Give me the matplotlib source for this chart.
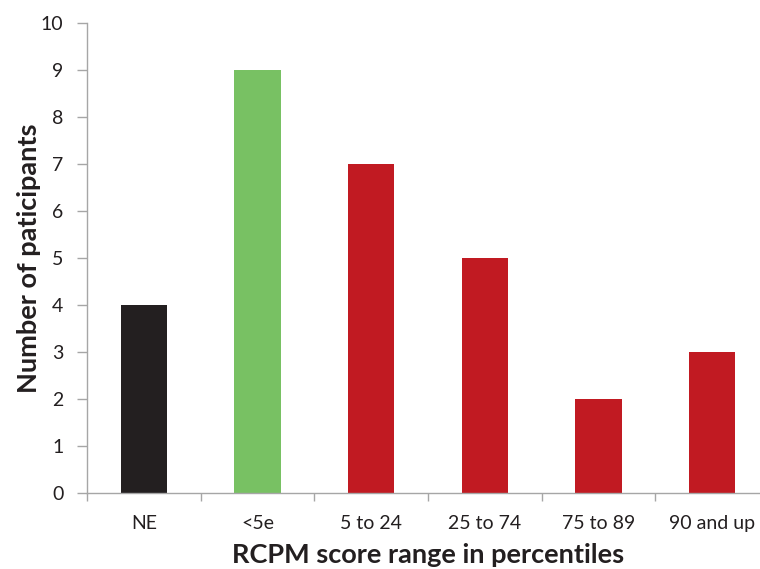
import matplotlib
matplotlib.use("Agg")
import matplotlib.pyplot as plt

categories = ["NE", "<5e", "5 to 24", "25 to 74", "75 to 89", "90 and up"]
values = [4, 9, 7, 5, 2, 3]
colors = ["#231f20", "#78c163", "#c11a22", "#c11a22", "#c11a22", "#c11a22"]

plt.rcParams['font.family'] = ['Lato', 'DejaVu Sans']
fig = plt.figure(figsize=(7.6, 5.69), dpi=100)
ax = fig.add_axes([87/760, 76/569, 682/760, 470/569])
x = list(range(len(categories)))
ax.bar(x, values, width=0.405, color=colors, zorder=2)
ax.set_xlim(-0.5, len(categories) - 0.5)
ax.set_ylim(0, 10)
ax.set_yticks(range(0, 11))
ax.set_xticks([i - 0.5 for i in range(len(categories) + 1)])
ax.set_xticklabels([])
ax.set_xticks(x, minor=True)
ax.set_xticklabels(categories, minor=True)
ax.tick_params(axis='x', which='minor', length=0, pad=16, labelsize=14, labelcolor='#231f20')
ax.tick_params(axis='x', which='major', length=6, color='#a6a6a6', width=1)
ax.tick_params(axis='y', length=7, color='#a6a6a6', width=1, labelsize=14, labelcolor='#231f20', pad=10)
for s in ['top', 'right']:
    ax.spines[s].set_visible(False)
for s in ['left', 'bottom']:
    ax.spines[s].set_color('#a6a6a6')
    ax.spines[s].set_linewidth(1)
ax.set_ylabel("Number of paticipants", fontsize=19.5, fontweight='bold', color='#231f20')
ax.set_xlabel("RCPM score range in percentiles", fontsize=19.5, fontweight='bold', color='#231f20')
ax.yaxis.set_label_coords(-0.068, 0.5)
ax.xaxis.set_label_coords(0.5, -0.107)
fig.savefig("out.png", dpi=100)
